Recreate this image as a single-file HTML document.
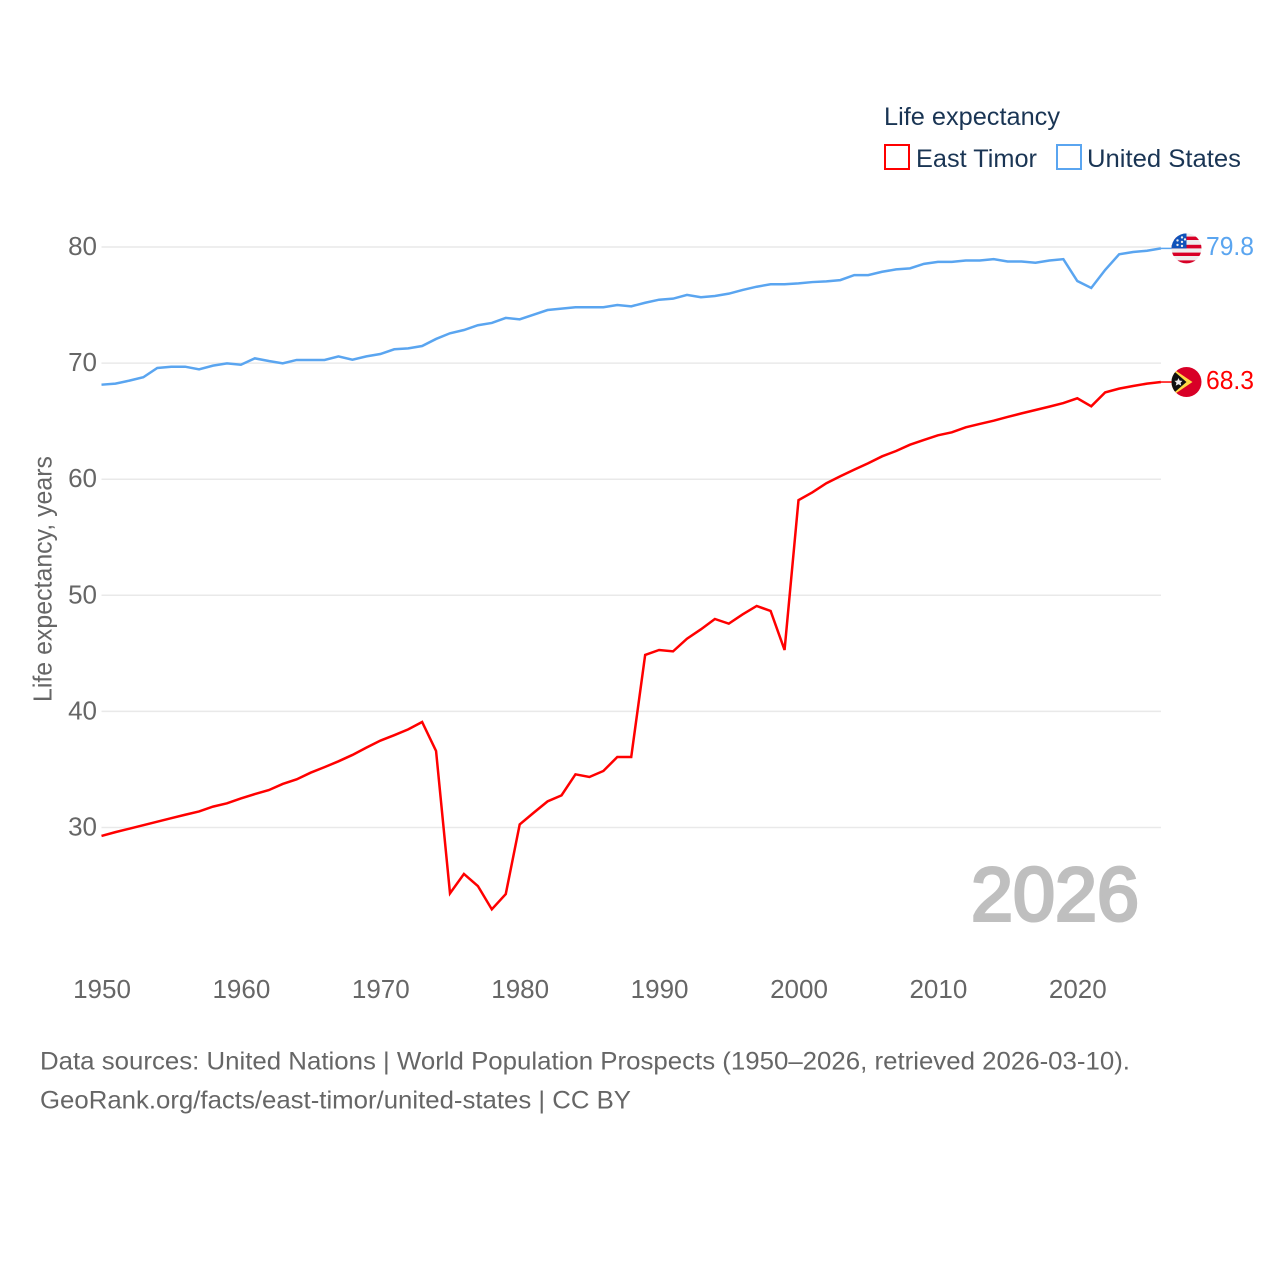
<!DOCTYPE html>
<html lang="en">
<head>
<meta charset="utf-8">
<title>Life expectancy: East Timor and United States</title>
<style>
html,body{margin:0;padding:0;background:#fff;width:1280px;height:1280px;overflow:hidden}
svg{display:block}
text{font-family:"Liberation Sans",sans-serif}
.tick{font-size:26px;fill:#666}
.legend{font-size:25px;fill:#1a3554}
.foot{font-size:25px;fill:#666}
</style>
</head>
<body>
<svg id="chart" xmlns="http://www.w3.org/2000/svg" width="1280" height="1280" viewBox="0 0 1280 1280">
  <defs>
    <clipPath id="us-clip"><circle cx="0" cy="0" r="15"/></clipPath>
    <clipPath id="tl-clip"><circle cx="0" cy="0" r="15"/></clipPath>
  </defs>
  <rect x="0" y="0" width="1280" height="1280" fill="#fff"/>
  <g id="grid"></g>
  <g id="y-ticks"></g>
  <g id="x-ticks"></g>
  <text transform="translate(51.5,702) rotate(-90)" class="tick" textLength="246" lengthAdjust="spacingAndGlyphs">Life expectancy, years</text>

  <g id="series"></g>

  <g id="flag-us">
    <g clip-path="url(#us-clip)">
      <rect x="-15" y="-15" width="30" height="30" fill="#eeeeee"/>
      <rect x="-15" y="-11.8" width="30" height="3.4" fill="#d80027"/>
      <rect x="-15" y="-3.6" width="30" height="3.6" fill="#d80027"/>
      <rect x="-15" y="4.2" width="30" height="3.4" fill="#d80027"/>
      <rect x="-15" y="12" width="30" height="4" fill="#d80027"/>
      <rect x="-15" y="-15" width="15" height="15" fill="#0f52ba"/>
      <g fill="#eeeeee">
        <circle cx="-9" cy="-8" r="1.2"/><circle cx="-4.5" cy="-11" r="1.2"/>
        <circle cx="-4.5" cy="-6.5" r="1.2"/><circle cx="-9" cy="-3.5" r="1.2"/>
        <circle cx="-4.5" cy="-2.5" r="1.2"/><circle cx="-1.5" cy="-9" r="1.2"/>
      </g>
    </g>
  </g>
  <g id="flag-tl">
    <g clip-path="url(#tl-clip)">
      <rect x="-15" y="-15" width="30" height="30" fill="#d80027"/>
      <polygon points="-15,-15 -11,-11.5 6,0 -11,11.5 -15,15" fill="#ffda44"/>
      <polygon points="-15,-12 -11,-9.5 0,0 -11,9.5 -15,12" fill="#111111"/>
      <polygon points="-8,-4 -6.8,-1.4 -4,-1.2 -6,0.8 -5.2,3.6 -8,2.2 -10.8,3.6 -10,0.8 -12,-1.2 -9.2,-1.4" fill="#eeeeee"/>
    </g>
  </g>
  <g id="end-labels"></g>

  <g>
    <text x="884" y="125" class="legend" textLength="176" lengthAdjust="spacingAndGlyphs">Life expectancy</text>
    <g>
      <rect x="885" y="145" width="24" height="24" fill="#fff" stroke="#ff0000" stroke-width="2"/>
      <text x="916" y="167" class="legend" textLength="121" lengthAdjust="spacingAndGlyphs">East Timor</text>
    </g>
    <g>
      <rect x="1057" y="145" width="24" height="24" fill="#fff" stroke="#5aa5f0" stroke-width="2"/>
      <text x="1087" y="167" class="legend" textLength="154" lengthAdjust="spacingAndGlyphs">United States</text>
    </g>
  </g>

  <text x="971" y="920.5" font-size="76" font-weight="400" fill="#bfbfbf" stroke="#bfbfbf" stroke-width="3" textLength="168" lengthAdjust="spacingAndGlyphs">2026</text>

  <text x="40" y="1069.5" class="foot" textLength="1090" lengthAdjust="spacingAndGlyphs">Data sources: United Nations | World Population Prospects (1950–2026, retrieved 2026-03-10).</text>
  <a><text x="40" y="1108.5" class="foot" textLength="591" lengthAdjust="spacingAndGlyphs">GeoRank.org/facts/east-timor/united-states | CC BY</text></a>
</svg>
<script>
const years = [1950,1951,1952,1953,1954,1955,1956,1957,1958,1959,1960,1961,1962,1963,1964,1965,1966,1967,1968,1969,1970,1971,1972,1973,1974,1975,1976,1977,1978,1979,1980,1981,1982,1983,1984,1985,1986,1987,1988,1989,1990,1991,1992,1993,1994,1995,1996,1997,1998,1999,2000,2001,2002,2003,2004,2005,2006,2007,2008,2009,2010,2011,2012,2013,2014,2015,2016,2017,2018,2019,2020,2021,2022,2023,2024,2025,2026];
const eastTimor = [29.27,29.6,29.9,30.2,30.5,30.8,31.1,31.38,31.8,32.08,32.5,32.88,33.22,33.75,34.15,34.72,35.2,35.7,36.25,36.88,37.48,37.95,38.45,39.09,36.59,24.33,26.0,24.96,22.95,24.27,30.27,31.27,32.25,32.77,34.58,34.35,34.87,36.07,36.07,44.86,45.29,45.17,46.26,47.07,47.96,47.56,48.36,49.08,48.65,45.29,58.2,58.87,59.65,60.25,60.82,61.37,61.97,62.43,62.97,63.38,63.78,64.04,64.47,64.76,65.04,65.36,65.67,65.96,66.25,66.56,66.97,66.28,67.48,67.8,68.03,68.23,68.37];
const unitedStates = [68.14,68.23,68.49,68.78,69.58,69.69,69.69,69.46,69.78,69.98,69.86,70.41,70.18,69.98,70.27,70.27,70.27,70.58,70.29,70.58,70.78,71.19,71.27,71.47,72.08,72.57,72.85,73.26,73.46,73.89,73.77,74.17,74.57,74.69,74.81,74.81,74.81,75.0,74.89,75.2,75.46,75.55,75.87,75.67,75.78,75.98,76.3,76.58,76.79,76.79,76.87,76.98,77.04,77.15,77.58,77.58,77.87,78.07,78.16,78.55,78.72,78.72,78.84,78.84,78.95,78.75,78.75,78.64,78.84,78.95,77.07,76.47,78.03,79.37,79.57,79.68,79.88];
const xTickLabels = [1950,1960,1970,1980,1990,2000,2010,2020];
const yTickLabels = [30,40,50,60,70,80];
const endLabelEastTimor = "68.3";
const endLabelUnitedStates = "79.8";

const SVGNS = "http://www.w3.org/2000/svg";
function xScale(year){ return 101.5 + (year - 1950) * 13.94; }
function yScale(v){ return 827.5 - (v - 30) * 11.61; }
function make(tag, parent){
  const el = document.createElementNS(SVGNS, tag);
  parent.appendChild(el);
  return el;
}

const gridGroup = document.getElementById("grid");
const yTickGroup = document.getElementById("y-ticks");
const xTickGroup = document.getElementById("x-ticks");
const seriesGroup = document.getElementById("series");
const endGroup = document.getElementById("end-labels");

yTickLabels.forEach(function(t){
  const line = make("line", gridGroup);
  
  
  line.setAttribute("x1", xScale(1950));
  line.setAttribute("x2", xScale(2026));
  line.setAttribute("y1", yScale(t));
  line.setAttribute("y2", yScale(t));
  line.setAttribute("stroke", "#e9e9e9");
  line.setAttribute("stroke-width", "1.5");

  const label = make("text", yTickGroup);
  
  
  label.setAttribute("class", "tick");
  label.setAttribute("x", 97);
  label.setAttribute("y", yScale(t) + 8);
  label.setAttribute("text-anchor", "end");
  label.textContent = t;
});

xTickLabels.forEach(function(t){
  const label = make("text", xTickGroup);
  
  
  label.setAttribute("class", "tick");
  label.setAttribute("x", xScale(t) + 0.5);
  label.setAttribute("y", 998);
  label.setAttribute("text-anchor", "middle");
  label.textContent = t;
});

function pathFor(values){
  return values.map(function(v, i){
    return (i ? "L" : "M") + xScale(years[i]).toFixed(2) + " " + yScale(v).toFixed(2);
  }).join(" ");
}

const usLine = make("path", seriesGroup);


usLine.setAttribute("d", pathFor(unitedStates));
usLine.setAttribute("fill", "none");
usLine.setAttribute("stroke", "#5aa5f0");
usLine.setAttribute("stroke-width", "2.5");
usLine.setAttribute("stroke-linejoin", "miter");

const tlLine = make("path", seriesGroup);


tlLine.setAttribute("d", pathFor(eastTimor));
tlLine.setAttribute("fill", "none");
tlLine.setAttribute("stroke", "#ff0000");
tlLine.setAttribute("stroke-width", "2.5");
tlLine.setAttribute("stroke-linejoin", "miter");

const usLast = yScale(unitedStates[unitedStates.length - 1]);
const tlLast = yScale(eastTimor[eastTimor.length - 1]);

const usConnector = make("line", seriesGroup);


usConnector.setAttribute("x1", xScale(2026));
usConnector.setAttribute("x2", 1172);
usConnector.setAttribute("y1", usLast);
usConnector.setAttribute("y2", usLast);
usConnector.setAttribute("stroke", "#5aa5f0");
usConnector.setAttribute("stroke-width", "1.5");

const tlConnector = make("line", seriesGroup);


tlConnector.setAttribute("x1", xScale(2026));
tlConnector.setAttribute("x2", 1172);
tlConnector.setAttribute("y1", tlLast);
tlConnector.setAttribute("y2", tlLast);
tlConnector.setAttribute("stroke", "#ff0000");
tlConnector.setAttribute("stroke-width", "1.5");

document.getElementById("flag-us").setAttribute("transform", "translate(1186.5," + usLast + ")");
document.getElementById("flag-tl").setAttribute("transform", "translate(1186.5," + tlLast + ")");

const usEnd = make("text", endGroup);


usEnd.setAttribute("x", 1206);
usEnd.setAttribute("y", usLast + 6.5);
usEnd.setAttribute("font-size", "26");
usEnd.setAttribute("fill", "#5aa5f0");
usEnd.setAttribute("textLength", "48");
usEnd.setAttribute("lengthAdjust", "spacingAndGlyphs");
usEnd.textContent = endLabelUnitedStates;

const tlEnd = make("text", endGroup);


tlEnd.setAttribute("x", 1206);
tlEnd.setAttribute("y", tlLast + 7);
tlEnd.setAttribute("font-size", "26");
tlEnd.setAttribute("fill", "#ff0000");
tlEnd.setAttribute("textLength", "48");
tlEnd.setAttribute("lengthAdjust", "spacingAndGlyphs");
tlEnd.textContent = endLabelEastTimor;
</script>
</body>
</html>
